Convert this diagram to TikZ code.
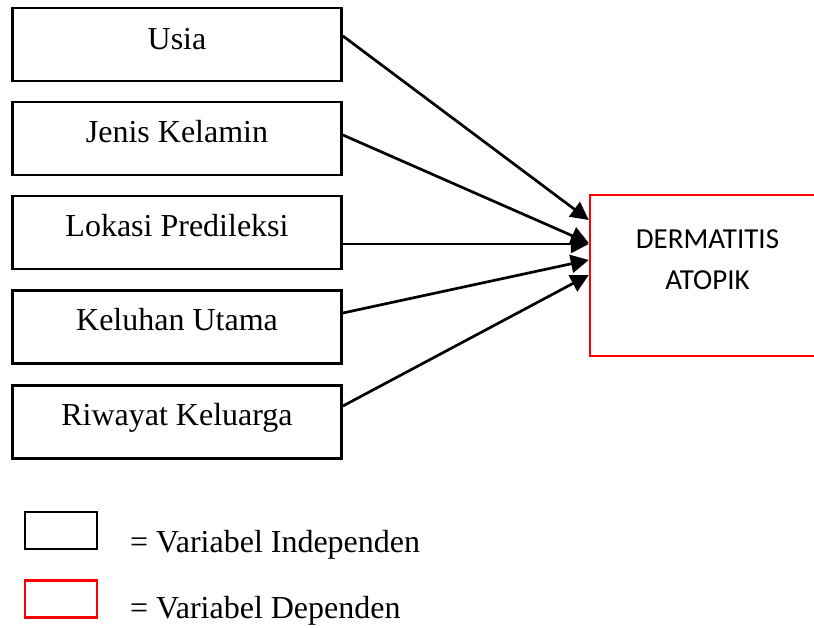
\documentclass[tikz,border=0pt]{standalone}
\usepackage{fontspec}
\setmainfont{Liberation Serif}
\newfontfamily\calib{Carlito}
\usetikzlibrary{arrows.meta,calc}
\begin{document}
\begin{tikzpicture}[x=1pt,y=-1pt,
  indep/.style={draw=black,line width=2.8pt,minimum width=329pt,minimum height=73pt,inner sep=0pt,text height=13pt,text depth=5.5pt,font=\fontsize{32}{38}\selectfont},
  dep/.style={draw=red,line width=2.4pt,minimum width=235pt,minimum height=161pt,inner sep=0pt},
  deptext/.style={anchor=base,inner sep=0pt,font=\calib\fontsize{29}{35}\selectfont},
  conn/.style={line width=2.7pt,-{Triangle[length=18pt,width=18pt]}},
  legbox/.style={line width=2.7pt,minimum width=72pt,minimum height=37pt,inner sep=0pt},
  legtext/.style={anchor=base west,inner sep=0pt,font=\fontsize{32}{38}\selectfont}]
\useasboundingbox (0,0) rectangle (814,628);
\node[indep,text depth=2pt] (u) at (177,44.5) {Usia};
\node[indep] (j) at (177,138.5) {Jenis Kelamin};
\node[indep] (l) at (177,232.5) {Lokasi Predileksi};
\node[indep] (k) at (177,327) {Keluhan Utama};
\node[indep] (r) at (177,422) {Riwayat Keluarga};
\node[dep] (d) at (707.5,275.5) {};
\node[deptext] (d1) at (707.5,249) {DERMATITIS};
\node[deptext] (d2) at (707.5,290) {ATOPIK};
\draw[conn] ($(u.east)+(0,-8.5)$) -- ($(d.west)+(0,-55.5)$);
\draw[conn] ($(j.east)+(0,-3.5)$) -- ($(d.west)+(0,-32.5)$);
\draw[conn] ($(l.east)+(0,11.5)$) -- ($(d.west)+(0,-31.5)$);
\draw[conn] ($(k.east)+(0,-14)$) -- ($(d.west)+(0,-15.5)$);
\draw[conn] ($(r.east)+(0,-16)$) -- ($(d.west)+(0,-0.5)$);
\node[legbox,draw=black] (lb1) at (61,530.5) {};
\node[legbox,draw=red] (lb2) at (61,599) {};
\node[legtext] (lt1) at (130,552) {= Variabel Independen};
\node[legtext] (lt2) at (130,618) {= Variabel Dependen};
\end{tikzpicture}
\end{document}
